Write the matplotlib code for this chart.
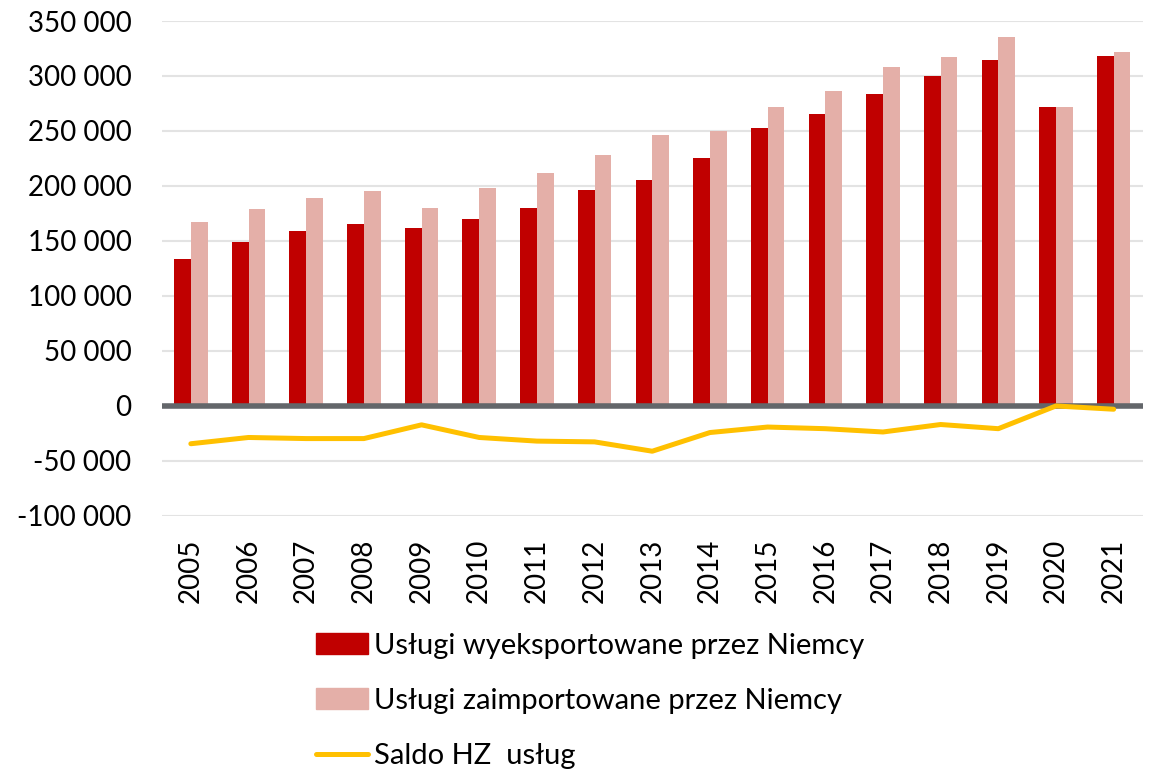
import matplotlib
matplotlib.use("Agg")
import matplotlib.pyplot as plt
from matplotlib.ticker import FuncFormatter
from matplotlib.lines import Line2D
from matplotlib.patches import Patch
import numpy as np

years = ["2005", "2006", "2007", "2008", "2009", "2010", "2011", "2012", "2013",
         "2014", "2015", "2016", "2017", "2018", "2019", "2020", "2021"]
eksport = [133000, 149000, 158500, 165500, 162000, 169500, 180000, 196000, 205000,
           225500, 252500, 265000, 284000, 300000, 314500, 272000, 318500]
import_ = [167500, 178500, 188500, 195500, 180000, 198000, 212000, 228500, 246500,
           250000, 272000, 286000, 308000, 317000, 335000, 272000, 321500]
saldo = [-34700, -29000, -30000, -30000, -17500, -29000, -32300, -33000, -41500,
         -24500, -19500, -21000, -24000, -17200, -21000, -300, -3300]
y_ticks = [-100000, -50000, 0, 50000, 100000, 150000, 200000, 250000, 300000, 350000]

labels = ["Usługi wyeksportowane przez Niemcy",
          "Usługi zaimportowane przez Niemcy",
          "Saldo HZ  usług"]

C_EXP = "#C00000"
C_IMP = "#E4AFA8"
C_SALDO = "#FFC000"

plt.rcParams["font.family"] = ["Lato", "DejaVu Sans"]

fig = plt.figure(figsize=(11.52, 7.70), dpi=100)
ax = fig.add_axes([162 / 1152, 1 - 515.5 / 770, (1142.5 - 162) / 1152, (515.5 - 21) / 770])

x = np.arange(len(years))
w = 0.29
ax.bar(x - w / 2, eksport, width=w, color=C_EXP, zorder=3)
ax.bar(x + w / 2, import_, width=w, color=C_IMP, zorder=3)
ax.axhline(0, color="#63666A", lw=4, zorder=4)
ax.plot(x, saldo, color=C_SALDO, lw=3.6, zorder=5, solid_capstyle="round")

ax.set_xlim(-0.5, len(years) - 0.5)
ax.set_ylim(-100000, 350000)
ax.set_yticks(y_ticks)
ax.yaxis.set_major_formatter(FuncFormatter(lambda v, p: f"{int(v):,}".replace(",", " ")))
ax.grid(axis="y", color="#E3E3E3", lw=1.5, zorder=0)
ax.set_axisbelow(True)
for s in ax.spines.values():
    s.set_visible(False)

ax.set_xticks(x)
ax.set_xticklabels(years, rotation=90)
ax.tick_params(axis="both", length=0, labelsize=20, colors="black")
ax.tick_params(axis="y", pad=22)
ax.tick_params(axis="x", pad=17)

handles = [Patch(color=C_EXP), Patch(color=C_IMP),
           Line2D([0], [0], color=C_SALDO, lw=3.6, solid_capstyle="round")]
fig.legend(handles, labels, loc="upper left", bbox_to_anchor=(304 / 1152, 1 - 621 / 770),
           frameon=False, fontsize=21, handlelength=1.8, handleheight=0.72,
           handletextpad=0.2, labelspacing=1.0, borderaxespad=0)

fig.savefig("out.png", dpi=100)
